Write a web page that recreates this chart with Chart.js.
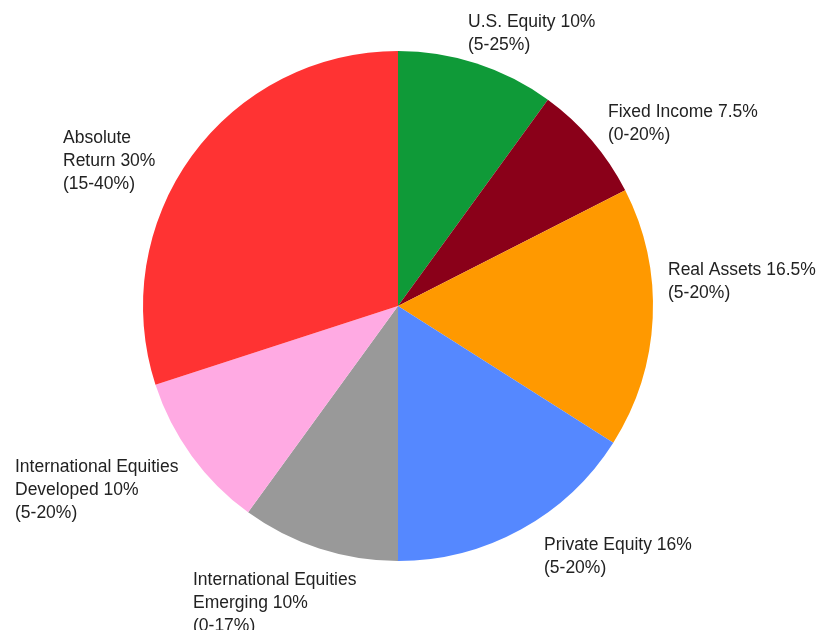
<!DOCTYPE html>
<html>
<head>
<meta charset="utf-8">
<script src="https://cdn.jsdelivr.net/npm/chart.js@4"></script>
<style>
  html, body { margin: 0; padding: 0; background: #fff; }
  #wrap { width: 822px; height: 630px; position: relative; }
</style>
</head>
<body>
<div id="wrap"><canvas id="pieChart"></canvas></div>
<script>
// DATA
const categories = [
  'U.S. Equity',
  'Fixed Income',
  'Real Assets',
  'Private Equity',
  'International Equities Emerging',
  'International Equities Developed',
  'Absolute Return'
];
const targets = [10, 7.5, 16.5, 16, 10, 10, 30];
const ranges = ['(5-25%)', '(0-20%)', '(5-20%)', '(5-20%)', '(0-17%)', '(5-20%)', '(15-40%)'];

// label text lines (how each label wraps)
const labelLines = [
  ['U.S. Equity 10%', '(5-25%)'],
  ['Fixed Income 7.5%', '(0-20%)'],
  ['Real Assets 16.5%', '(5-20%)'],
  ['Private Equity 16%', '(5-20%)'],
  ['International Equities', 'Emerging 10%', '(0-17%)'],
  ['International Equities', 'Developed 10%', '(5-20%)'],
  ['Absolute', 'Return 30%', '(15-40%)']
];

const colors = ['#0f9a38', '#8a0019', '#ff9900', '#5588ff', '#999999', '#ffaae3', '#ff3333'];

// label offsets from pie centre (first baseline)
const labelOffsets = [
  [70, -279], [210, -189], [270, -31], [146, 244],
  [-205, 279], [-383, 166], [-335, -163]
];

const outsideLabels = {
  id: 'outsideLabels',
  afterDraw(chart) {
    const ctx = chart.ctx;
    const arc = chart.getDatasetMeta(0).data[0];
    const cx = arc.x, cy = arc.y;
    ctx.save();
    ctx.fillStyle = '#222';
    ctx.font = "17.5px 'Liberation Sans', Arial, sans-serif";
    ctx.textAlign = 'left';
    ctx.textBaseline = 'alphabetic';
    labelLines.forEach((lines, i) => {
      const [dx, dy] = labelOffsets[i];
      lines.forEach((line, j) => {
        ctx.fillText(line, cx + dx, cy + dy + j * 23);
      });
    });
    ctx.restore();
  }
};

new Chart('pieChart', {
  type: 'pie',
  data: {
    labels: categories,
    datasets: [{
      data: targets,
      backgroundColor: colors,
      borderWidth: 0
    }]
  },
  options: {
    maintainAspectRatio: false,
    responsive: true,
    animation: false,
    layout: {
      padding: { left: 143, right: 169, top: 51, bottom: 69 }
    },
    plugins: {
      legend: { display: false },
      tooltip: { enabled: false }
    }
  },
  plugins: [outsideLabels]
});
</script>
</body>
</html>
